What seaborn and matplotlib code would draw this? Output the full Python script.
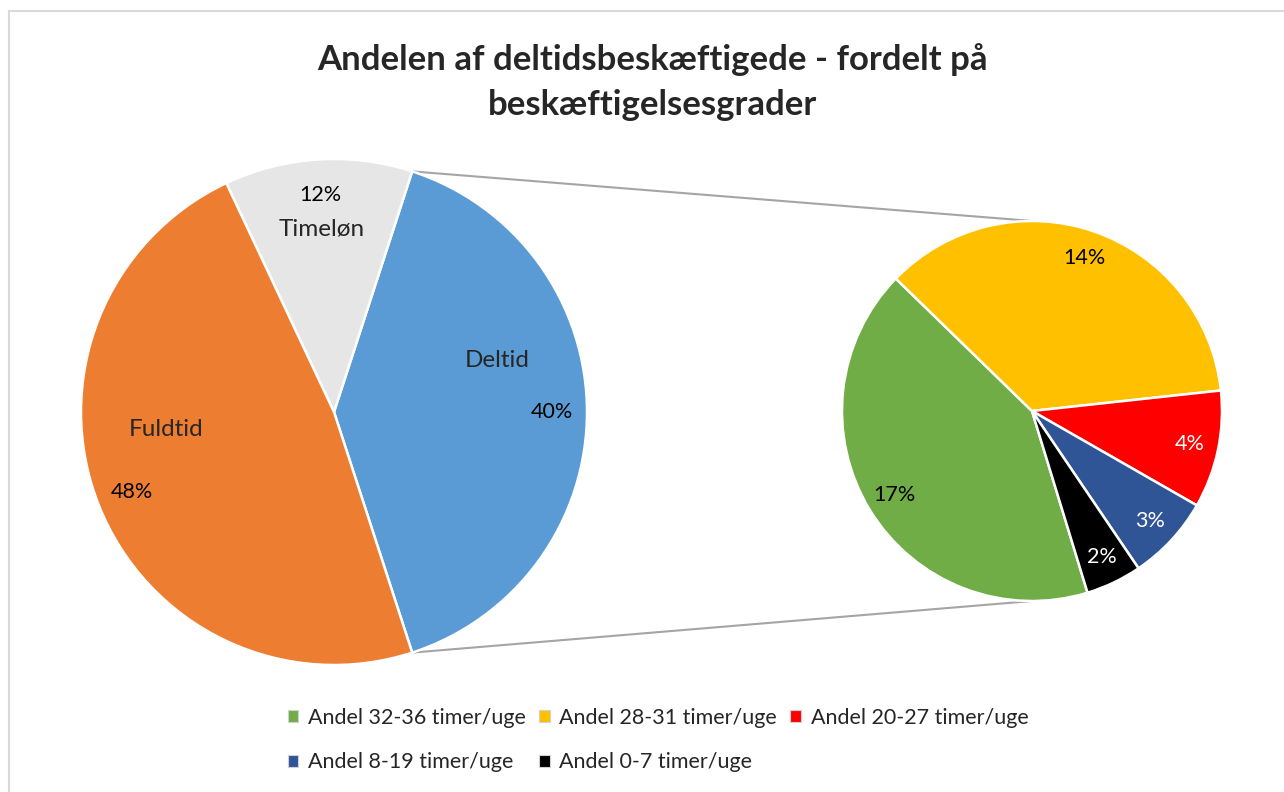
import numpy as np
import matplotlib.pyplot as plt
import seaborn as sns
from matplotlib.patches import Patch, Rectangle

sns.set_style("white")
plt.rcParams["font.family"] = ["Lato", "DejaVu Sans"]

# --- data ---
title_lines = ["Andelen af deltidsbeskæftigede - fordelt på", "beskæftigelsesgrader"]

main_labels = ["Deltid", "Timeløn", "Fuldtid"]
main_values = [40, 12, 48]
main_colors = ["#5B9BD5", "#E7E6E6", "#ED7D31"]

sub_labels = ["Andel 32-36 timer/uge", "Andel 28-31 timer/uge", "Andel 20-27 timer/uge",
              "Andel 8-19 timer/uge", "Andel 0-7 timer/uge"]
sub_values = [16.8, 14.4, 4.0, 2.9, 1.9]
sub_colors = ["#70AD47", "#FFC000", "#FF0000", "#2F5597", "#000000"]
sub_text_colors = ["black", "black", "white", "white", "white"]

# --- layout (pixel space, y measured upward) ---
W, H = 1284, 792
main_c, main_r = (334, H - 412), 253
sub_c, sub_r = (1032, H - 411), 190
# name label placement: (fraction of radius, angle in degrees)
name_pos = {"Deltid": (0.676, 17.7), "Timeløn": (0.725, 93.8), "Fuldtid": (0.668, 186)}
FS = 15.5
NAME_FS = 17.5

fig = plt.figure(figsize=(W / 100, H / 100), dpi=100)
ax = fig.add_axes([0, 0, 1, 1])

deltid_deg = main_values[0] / sum(main_values) * 360
start = -deltid_deg / 2

wedges, _, pcts = ax.pie(main_values, colors=main_colors, startangle=start,
                         center=main_c, radius=main_r, autopct="%1.0f%%",
                         pctdistance=0.86,
                         wedgeprops=dict(edgecolor="white", linewidth=1.8),
                         textprops=dict(fontsize=FS, color="black"))

for name in main_labels:
    f, a = name_pos[name]
    x = main_c[0] + f * main_r * np.cos(np.radians(a))
    y = main_c[1] + f * main_r * np.sin(np.radians(a))
    ax.text(x, y, name, ha="center", va="center", fontsize=NAME_FS)

total_sub = sum(sub_values)
swedges, _, spcts = ax.pie(sub_values, colors=sub_colors, startangle=287,
                           counterclock=False, center=sub_c, radius=sub_r,
                           autopct=lambda p: f"{p * total_sub / 100:.0f}%",
                           pctdistance=0.85,
                           wedgeprops=dict(edgecolor="white", linewidth=1.8),
                           textprops=dict(fontsize=FS))
for t, c in zip(spcts, sub_text_colors):
    t.set_color(c)

# connector lines from Deltid wedge edges to top/bottom of secondary pie
for sgn in (1, -1):
    a = np.radians(sgn * deltid_deg / 2)
    x0 = main_c[0] + main_r * np.cos(a)
    y0 = main_c[1] + main_r * np.sin(a)
    ax.plot([x0, sub_c[0]], [y0, sub_c[1] + sgn * sub_r], color="#A5A5A5",
            lw=1.5, zorder=0)

ax.text(652, H - 70, title_lines[0], ha="center", va="baseline",
        fontsize=25, fontweight="bold")
ax.text(652, H - 115, title_lines[1], ha="center", va="baseline",
        fontsize=25, fontweight="bold")

handles = [Patch(facecolor=c, edgecolor="#D0D0D0", linewidth=0.8) for c in sub_colors]
order = [0, 3, 1, 4, 2]
ax.legend([handles[i] for i in order], [sub_labels[i] for i in order],
          ncol=3, loc="center", bbox_to_anchor=(658, H - 740),
          bbox_transform=ax.transData, frameon=False, fontsize=FS,
          handlelength=0.5, handleheight=0.5, handletextpad=0.45,
          columnspacing=0.6, labelspacing=1.15)

# chart area border
ax.add_patch(Rectangle((9, -20), W + 20, H - 11 + 20, fill=False,
                       edgecolor="#D9D9D9", linewidth=1.5, clip_on=False))

ax.set_xlim(0, W)
ax.set_ylim(0, H)
ax.set_aspect("equal")
ax.axis("off")

fig.savefig("out.png", dpi=100)
